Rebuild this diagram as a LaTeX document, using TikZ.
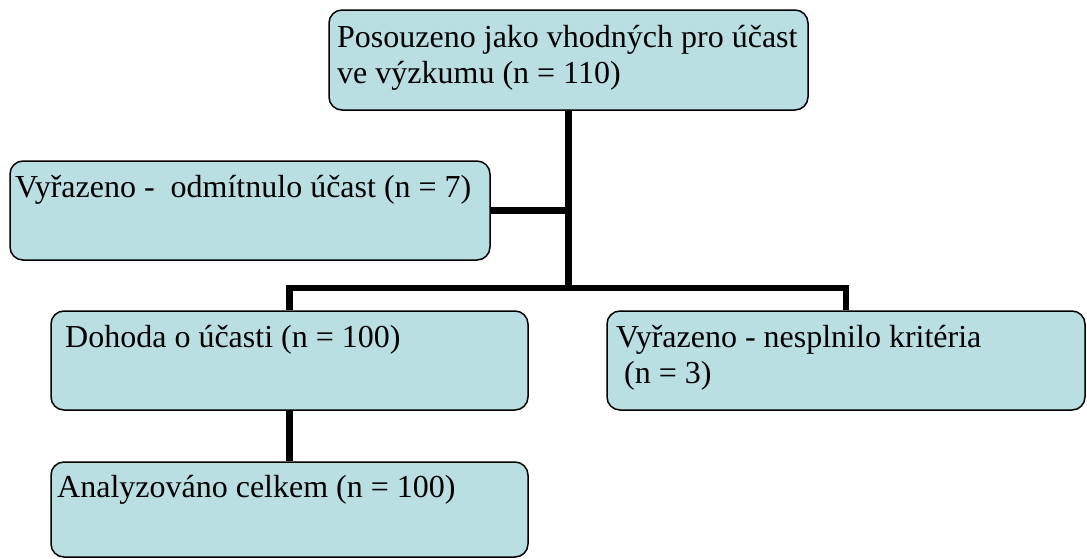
\documentclass[tikz,border=0pt]{standalone}
\usepackage{fontspec}
\setmainfont{Liberation Serif}
\usetikzlibrary{backgrounds}
\definecolor{boxfill}{HTML}{B9DFE3}
\tikzset{
  box/.style={draw=black, line width=1.5pt, fill=boxfill, rounded corners=13pt, inner sep=0pt},
  lbl/.style={anchor=base west, inner sep=0pt, font=\fontsize{32}{36.5}\selectfont},
  conn/.style={draw=black, line width=6.5pt}
}
\begin{document}
\begin{tikzpicture}[x=1pt,y=-1pt]
\useasboundingbox (0,0) rectangle (1087,558);
% boxes
\node[box, minimum width=479pt, minimum height=100pt] (top) at (568.5,60) {};
\node[box, minimum width=480pt, minimum height=99pt] (left) at (250,210.5) {};
\node[box, minimum width=477pt, minimum height=99pt] (doh) at (289.5,360.5) {};
\node[box, minimum width=478pt, minimum height=99pt] (right) at (846,360.5) {};
\node[box, minimum width=477pt, minimum height=95pt] (ana) at (289.5,509.5) {};
% texts
\node[lbl] (t1) at (337,47) {Posouzeno jako vhodných pro účast};
\node[lbl] (t2) at (337,83.5) {ve výzkumu (n = 110)};
\node[lbl] (t3) at (15,197) {Vyřazeno -\ \ odmítnulo účast (n = 7)};
\node[lbl] (t4) at (65,347) {Dohoda o účasti (n = 100)};
\node[lbl] (t5) at (616,347) {Vyřazeno - nesplnilo kritéria};
\node[lbl] (t6) at (616,383.5) {\ (n = 3)};
\node[lbl] (t7) at (57,497) {Analyzováno celkem (n = 100)};
% connectors
\coordinate (bus) at (568.5,288);
\begin{scope}[on background layer]
\draw[conn] (top.south) -- (bus);
\draw[conn] (left.east) -- (left.east -| top.south);
\draw[conn] (doh.north) -- (doh.north |- bus) -- (right.north |- bus) -- (right.north);
\draw[conn] (doh.south) -- (ana.north);
\end{scope}
\end{tikzpicture}
\end{document}
